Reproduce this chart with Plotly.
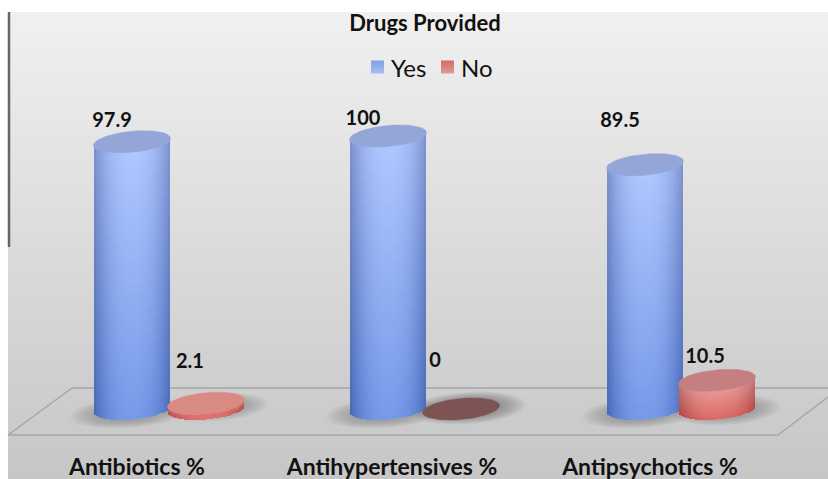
import math
import plotly.graph_objects as go

# Survey results shown on the chart
categories = ["Antibiotics %", "Antihypertensives %", "Antipsychotics %"]
yes_values = [97.9, 100, 89.5]
no_values = [2.1, 0, 10.5]
series_names = ["Yes", "No"]
chart_title = "Drugs Provided"

W, H = 828, 479
PX_PER_UNIT = 2.73
BASE_PX = 409
A, B, SHEAR = 38.5, 10.5, 0.09  # cylinder radius, foreshortened radius, tilt of the ellipses
FONT = "Lato, 'Open Sans', sans-serif"
INK = "#111111"


def to_y(px):
    return (BASE_PX - px) / PX_PER_UNIT


def mix(c1, c2, t):
    t = max(0.0, min(1.0, t))
    return tuple(a + (b - a) * t for a, b in zip(c1, c2))


def css(c):
    return "rgb(%d,%d,%d)" % tuple(round(v) for v in c)


def ellipse(cx, level, a=A, b=B, s=SHEAR, n=72):
    xs, ys = [], []
    for i in range(n + 1):
        t = 2 * math.pi * i / n
        xs.append(cx + a * math.cos(t))
        ys.append(level + (b * math.sin(t) + s * a * math.cos(t)) / PX_PER_UNIT)
    return xs, ys


def body(cx, value, top_c, bot_c, top_e, bot_e, name):
    """Cylinder wall: columns across the width, stacked in short shaded segments."""
    xs, bases, heights, colors = [], [], [], []
    col_w = 2
    cols = int(2 * A / col_w)
    segment_px = 8 if value > 30 else 2
    rows = max(1, round(value * PX_PER_UNIT / segment_px))
    for i in range(cols):
        dx = -A + (i + 0.5) * col_w
        u = dx / A
        edge = abs(u) ** 2.4
        slope = SHEAR * dx / PX_PER_UNIT
        low = -B * math.sqrt(max(0, 1 - u * u)) / PX_PER_UNIT + slope
        high = value + slope
        step = (high - low) / rows
        for r in range(rows):
            t = 1 - (r + 0.5) / rows
            center = mix(top_c, bot_c, t)
            side = mix(top_e, bot_e, t)
            xs.append(cx + dx)
            bases.append(low + r * step)
            heights.append(step * 1.04)
            colors.append(css(mix(center, side, edge)))
    return go.Bar(x=xs, y=heights, base=bases, width=col_w, name=name, showlegend=False,
                  marker=dict(color=colors, line=dict(width=0)), hoverinfo="skip")


def cap(cx, value, color):
    xs, ys = ellipse(cx, value)
    return go.Scatter(x=xs, y=ys, mode="lines", fill="toself", fillcolor=color,
                      line=dict(color=color, width=0.5), showlegend=False, hoverinfo="skip")


def ellipse_path(cx, cy_px, a, b):
    xs, ys = ellipse(cx, to_y(cy_px), a, b, s=0.06, n=48)
    return "M" + "L".join(f"{x:.1f},{y:.3f}" for x, y in zip(xs, ys)) + "Z"


shapes = []

# Page backdrop: soft vertical gradient below a white strip
TOP_PX = 12
strip = 4
for py in range(TOP_PX, H, strip):
    g = 240 - (py - TOP_PX) / (H - TOP_PX) * 42
    shapes.append(dict(type="rect", xref="x", yref="paper", layer="below", line=dict(width=0),
                       x0=8, x1=W, y0=1 - (py + strip) / H, y1=1 - py / H,
                       fillcolor=css((g, g, g))))

# Floor of the chart
line_style = dict(color="#a6a6a6", width=1.5)
for (x0, y0), (x1, y1) in [((72, 388), (W, 388)), ((72, 388), (8, 435)), ((8, 435), (778, 435)), ((778, 435), (W, 397))]:
    shapes.append(dict(type="line", layer="below", xref="x", yref="y", line=line_style,
                       x0=x0, x1=x1, y0=to_y(y0), y1=to_y(y1)))

# Frame stub on the left edge
shapes.append(dict(type="line", layer="below", xref="x", yref="y", line=dict(color="#666666", width=2.5),
                   x0=9, x1=9, y0=to_y(TOP_PX), y1=to_y(247)))

blue_x = [132, 388, 645]
red_x = [206, 461, 717]

# Blurred contact shadows, built from stacked translucent ellipses
shadow_specs = [(128, 413, 58, 15, 1), (214, 407, 54, 14, 1),
                (384, 413, 58, 15, 1), (468, 408, 57, 16, 1.5),
                (640, 413, 58, 15, 1), (726, 410, 54, 15, 1)]
for cx, cy, a, b, strength in shadow_specs:
    for k in range(9):
        f = 1 - k * 0.055
        shapes.append(dict(type="path", layer="below", xref="x", yref="y",
                           path=ellipse_path(cx, cy, a * f, b * f), line=dict(width=0),
                           fillcolor=f"rgba(90,90,90,{0.05 * strength:.3f})"))

fig = go.Figure()

BLUE = dict(top_c=(176, 200, 255), bot_c=(118, 154, 232), top_e=(122, 142, 204), bot_e=(70, 104, 184))
RED = dict(top_c=(232, 170, 166), bot_c=(222, 104, 100), top_e=(190, 120, 118), bot_e=(176, 70, 68))
BLUE_CAP = "#94a5d8"
RED_CAP = "#c48080"

for cx, v in zip(blue_x, yes_values):
    fig.add_trace(body(cx, v, name=series_names[0], **BLUE))
for cx, v in zip(red_x, no_values):
    if v > 0:
        fig.add_trace(body(cx, v, name=series_names[1], **RED))

for cx, v in zip(blue_x, yes_values):
    fig.add_trace(cap(cx, v, BLUE_CAP))
for cx, v in zip(red_x, no_values):
    # a zero share collapses to a dark disc on the floor
    color = "#7d5353" if v == 0 else ("#d98a82" if v < 5 else RED_CAP)
    fig.add_trace(cap(cx, v, color))

# Value labels
yes_label_pos = [(112, 122), (363, 120), (620, 122)]
no_label_pos = [(190, 363), (435, 362), (705, 358)]
values = yes_values + no_values
positions = yes_label_pos + no_label_pos
fig.add_trace(go.Scatter(x=[p[0] for p in positions], y=[to_y(p[1]) for p in positions],
                         text=[f"<b>{v:g}</b>" for v in values], mode="text",
                         textfont=dict(family=FONT, size=20, color=INK),
                         showlegend=False, hoverinfo="skip"))

# Category labels along the bottom
cat_pos = [137, 392, 650]
fig.add_trace(go.Scatter(x=cat_pos, y=[to_y(469)] * 3, text=[f"<b>{c}</b>" for c in categories],
                         mode="text", showlegend=False, hoverinfo="skip",
                         textfont=dict(family=FONT, size=23, color=INK)))

# Key: gradient swatch plus series name for each series
key_entries = [(series_names[0], 377.5, 391, "#7f9fe6", "#a8bdf0"),
               (series_names[1], 447.5, 461, "#d46a68", "#e09a98")]
for name, swatch_x, text_x, color, light in key_entries:
    fig.add_trace(go.Scatter(x=[swatch_x], y=[to_y(67)], mode="markers", showlegend=False, hoverinfo="skip",
                             marker=dict(symbol="square", size=13, color=color, line=dict(width=0),
                                         gradient=dict(type="vertical", color=light))))
    fig.add_trace(go.Scatter(x=[text_x], y=[to_y(71)], mode="text", text=[name], textposition="middle right",
                             textfont=dict(family=FONT, size=24, color=INK), showlegend=False, hoverinfo="skip"))

fig.update_layout(
    width=W, height=H, margin=dict(l=0, r=0, t=0, b=0, pad=0),
    paper_bgcolor="#ffffff", plot_bgcolor="rgba(0,0,0,0)",
    barmode="overlay", bargap=0, shapes=shapes, showlegend=False,
    xaxis=dict(range=[0, W], visible=False, fixedrange=True),
    yaxis=dict(range=[to_y(H), to_y(0)], visible=False, fixedrange=True),
    title=dict(text=f"<b>{chart_title}</b>", x=425 / W, xanchor="center", y=1 - 23 / H, yanchor="middle",
               font=dict(family=FONT, size=22, color=INK)),
    font=dict(family=FONT),
)

fig.write_html("out.html", config=dict(displayModeBar=False))
